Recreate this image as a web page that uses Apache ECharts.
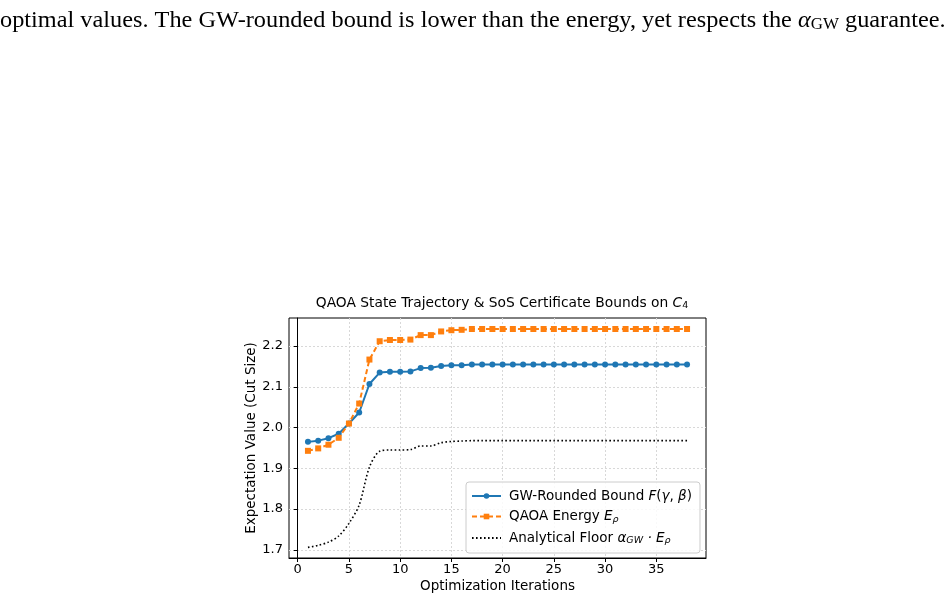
<!DOCTYPE html>
<html>
<head>
<meta charset="utf-8">
<script src="https://cdn.jsdelivr.net/npm/echarts@6/dist/echarts.min.js"></script>
<style>
  html, body { margin: 0; padding: 0; background: #fff; }
  #chart { width: 951px; height: 600px; }
</style>
</head>
<body>
<div id="chart"></div>
<script>
// data
var iterations = [1, 2, 3, 4, 5, 6, 7, 8, 9, 10, 11, 12, 13, 14, 15, 16, 17, 18, 19,
	20, 21, 22, 23, 24, 25, 26, 27, 28, 29, 30, 31, 32, 33, 34, 35, 36, 37, 38];
var gwBound = [1.965, 1.968, 1.974, 1.985, 2.010, 2.037, 2.107, 2.135, 2.137, 2.137,
	2.138, 2.146, 2.147, 2.151, 2.153, 2.153, 2.155, 2.155, 2.155, 2.155,
	2.155, 2.155, 2.155, 2.155, 2.155, 2.155, 2.155, 2.155, 2.155, 2.155,
	2.155, 2.155, 2.155, 2.155, 2.155, 2.155, 2.155, 2.155];
var qaoaEnergy = [1.943, 1.949, 1.958, 1.975, 2.010, 2.059, 2.167, 2.212, 2.215, 2.215,
	2.216, 2.227, 2.227, 2.236, 2.239, 2.240, 2.242, 2.242, 2.242, 2.242,
	2.242, 2.242, 2.242, 2.242, 2.242, 2.242, 2.242, 2.242, 2.242, 2.242,
	2.242, 2.242, 2.242, 2.242, 2.242, 2.242, 2.242, 2.242];
var analyticFloor = [1.706, 1.711, 1.719, 1.734, 1.765, 1.810, 1.903, 1.942, 1.945, 1.945,
	1.946, 1.955, 1.955, 1.963, 1.966, 1.967, 1.968, 1.968, 1.968, 1.968,
	1.968, 1.968, 1.968, 1.968, 1.968, 1.968, 1.968, 1.968, 1.968, 1.968,
	1.968, 1.968, 1.968, 1.968, 1.968, 1.968, 1.968, 1.968];
var xTicks = [0, 5, 10, 15, 20, 25, 30, 35];
var yTicks = [1.7, 1.8, 1.9, 2.0, 2.1, 2.2];

var pairs = function(ys){
	return iterations.map(function(x, i){ return [x, ys[i]]; });
};

var font = 'DejaVu Sans';
var myChart = echarts.init(document.getElementById('chart'));

var option = {
	backgroundColor: '#fff',
	animation: false,
	title: {
		text: 'QAOA State Trajectory & SoS Certificate Bounds on {i|C}{s|4}',
		left: 497,
		textAlign: 'center',
		top: 290,
		textStyle: {
			fontFamily: font, fontSize: 13.8, fontWeight: 'normal', color: '#000',
			rich: {
				i: {fontFamily: font, fontSize: 13.8, fontStyle: 'italic', color: '#000'},
				s: {fontFamily: font, fontSize: 9.5, color: '#000', padding: [6, 0, 0, 0]}
			}
		}
	},
	graphic: [{
		type: 'text',
		left: 0,
		top: 9,
		scaleX: 1.057,
		style: {
			text: 'optimal values. The GW-rounded bound is lower than the energy, yet respects the {a|α}{s|GW} guarantee.',
			fontFamily: 'Liberation Serif',
			fontSize: 23,
			fill: '#000',
			rich: {
				a: {fontFamily: 'Liberation Serif', fontSize: 23, fontStyle: 'italic', fill: '#000'},
				s: {fontFamily: 'Liberation Serif', fontSize: 16, fill: '#000', padding: [8, 0, 0, 0]}
			}
		}
	}],
	grid: {
		left: 289, right: 245, top: 318, bottom: 42,
		show: true, borderColor: '#000', borderWidth: 1
	},
	legend: {
		orient: 'vertical',
		left: 466,
		top: 482,
		padding: [7, 8, 7, 5],
		itemWidth: 29,
		itemHeight: 7,
		itemGap: 6.5,
		backgroundColor: 'rgba(255,255,255,0.85)',
		borderColor: '#cccccc',
		borderWidth: 1,
		borderRadius: 3,
		textStyle: {
			fontFamily: font, fontSize: 13.5, color: '#000', padding: [0, 0, 0, 3],
			rich: {
				i: {fontFamily: font, fontSize: 13.5, fontStyle: 'italic', color: '#000'},
				s: {fontFamily: font, fontSize: 9.5, fontStyle: 'italic', color: '#000', padding: [6, 0, 0, 0]}
			}
		},
		formatter: function(name){
			if(name == 'gw') return 'GW-Rounded Bound {i|F}({i|γ}, {i|β})';
			if(name == 'qaoa') return 'QAOA Energy {i|E}{s|ρ}';
			return 'Analytical Floor {i|α}{s|GW}{i| · E}{s|ρ}';
		},
		data: ['gw', 'qaoa', {name: 'floor', itemStyle: {color: 'rgba(0,0,0,0)', borderWidth: 0}}]
	},
	xAxis: {
		type: 'value',
		min: -0.85,
		max: 39.85,
		name: 'Optimization Iterations',
		nameLocation: 'middle',
		nameGap: 21,
		nameTextStyle: {fontFamily: font, fontSize: 13.5, color: '#000'},
		axisLine: {show: true, lineStyle: {color: '#000', width: 1}},
		axisTick: {show: true, inside: false, length: 4, customValues: xTicks, lineStyle: {color: '#000'}},
		axisLabel: {customValues: xTicks, fontFamily: font, fontSize: 13, color: '#000', margin: 5},
		splitLine: {show: true, lineStyle: {color: '#d8d8d8', type: [2, 2], width: 1}}
	},
	yAxis: {
		type: 'value',
		min: 1.68,
		max: 2.269,
		name: 'Expectation Value (Cut Size)',
		nameLocation: 'middle',
		nameGap: 30,
		nameTextStyle: {fontFamily: font, fontSize: 13.5, color: '#000'},
		axisLine: {show: true, lineStyle: {color: '#000', width: 1}},
		axisTick: {show: true, inside: false, length: 4, customValues: yTicks, lineStyle: {color: '#000'}},
		axisLabel: {
			customValues: yTicks, fontFamily: font, fontSize: 13, color: '#000', margin: 6,
			formatter: function(v){ return v.toFixed(1); }
		},
		splitLine: {show: true, lineStyle: {color: '#d8d8d8', type: [2, 2], width: 1}}
	},
	series: [{
		name: 'gw',
		type: 'line',
		data: pairs(gwBound),
		symbol: 'circle',
		symbolSize: 6,
		lineStyle: {color: '#1f77b4', width: 2},
		itemStyle: {color: '#1f77b4'},
		z: 3
	}, {
		name: 'qaoa',
		type: 'line',
		data: pairs(qaoaEnergy),
		symbol: 'rect',
		symbolSize: 6,
		lineStyle: {color: '#ff7f0e', width: 2, type: [5, 3]},
		itemStyle: {color: '#ff7f0e'},
		z: 4
	}, {
		name: 'floor',
		type: 'line',
		data: pairs(analyticFloor),
		symbol: 'none',
		smooth: 0.3,
		lineStyle: {color: '#000', width: 1.6, type: [1.6, 2.4]},
		itemStyle: {color: '#000'},
		z: 2
	}]
};

myChart.setOption(option);
</script>
</body>
</html>
